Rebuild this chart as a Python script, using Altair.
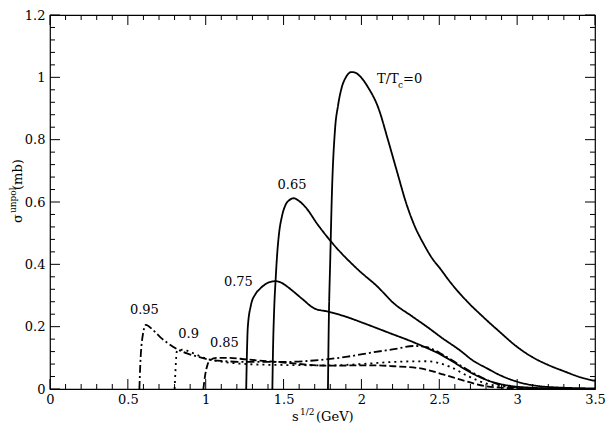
import altair as alt
import pandas as pd

# ---- data ----
t0_x = [1.785, 1.79, 1.80, 1.81, 1.83, 1.85, 1.875, 1.90, 1.935, 1.96, 1.99, 2.04, 2.11, 2.17, 2.23, 2.285, 2.34, 2.40, 2.46, 2.50, 2.567, 2.673, 2.78, 2.884, 2.99, 3.095, 3.20, 3.306, 3.41, 3.5]
t0_y = [0.0, 0.2, 0.42, 0.62, 0.83, 0.91, 0.97, 1.0, 1.017, 1.015, 1.004, 0.97, 0.90, 0.80, 0.695, 0.60, 0.525, 0.465, 0.415, 0.39, 0.345, 0.284, 0.232, 0.185, 0.139, 0.103, 0.077, 0.056, 0.037, 0.026]

t65_x = [1.428, 1.432, 1.44, 1.449, 1.46, 1.47, 1.49, 1.512, 1.54, 1.565, 1.60, 1.64, 1.72, 1.81, 1.98, 2.10, 2.21, 2.32, 2.42, 2.52, 2.63, 2.72, 2.80, 2.90, 2.99, 3.10, 3.30, 3.5]
t65_y = [0.0, 0.12, 0.26, 0.351, 0.44, 0.495, 0.555, 0.59, 0.607, 0.612, 0.603, 0.584, 0.527, 0.47, 0.382, 0.33, 0.274, 0.235, 0.20, 0.163, 0.125, 0.09, 0.068, 0.042, 0.025, 0.012, 0.004, 0.002]

t75_x = [1.26, 1.265, 1.27, 1.29, 1.32, 1.345, 1.38, 1.41, 1.45, 1.49, 1.52, 1.57, 1.62, 1.70, 1.79, 1.90, 2.00, 2.10, 2.21, 2.30, 2.40, 2.50, 2.57, 2.69, 2.82, 2.97, 3.10, 3.30, 3.5]
t75_y = [0.0, 0.12, 0.196, 0.268, 0.305, 0.32, 0.335, 0.343, 0.346, 0.34, 0.33, 0.31, 0.289, 0.258, 0.248, 0.232, 0.214, 0.195, 0.174, 0.157, 0.136, 0.113, 0.093, 0.056, 0.026, 0.009, 0.004, 0.001, 0.0]

t85_x = [0.985, 0.995, 1.01, 1.027, 1.07, 1.15, 1.26, 1.50, 1.77, 2.08, 2.21, 2.38, 2.53, 2.67, 2.80, 3.0, 3.2, 3.5]
t85_y = [0.0, 0.04, 0.075, 0.092, 0.10, 0.10, 0.095, 0.085, 0.075, 0.076, 0.073, 0.066, 0.046, 0.025, 0.009, 0.002, 0.0005, 0.0]

t90_x = [0.80, 0.805, 0.81, 0.816, 0.85, 0.88, 0.94, 1.006, 1.10, 1.26, 1.50, 1.80, 2.00, 2.21, 2.42, 2.57, 2.69, 2.82, 3.0, 3.2, 3.5]
t90_y = [0.0, 0.05, 0.10, 0.123, 0.126, 0.123, 0.11, 0.097, 0.088, 0.08, 0.077, 0.076, 0.08, 0.087, 0.089, 0.071, 0.04, 0.015, 0.005, 0.001, 0.0]

t95_x = [0.574, 0.58, 0.595, 0.616, 0.66, 0.711, 0.76, 0.816, 0.88, 0.943, 1.027, 1.10, 1.26, 1.50, 1.77, 1.90, 2.08, 2.21, 2.34, 2.42, 2.53, 2.65, 2.78, 2.90, 3.0, 3.2, 3.5]
t95_y = [0.0, 0.08, 0.17, 0.206, 0.19, 0.165, 0.146, 0.128, 0.114, 0.105, 0.094, 0.09, 0.087, 0.087, 0.095, 0.103, 0.118, 0.128, 0.138, 0.134, 0.108, 0.071, 0.035, 0.012, 0.005, 0.001, 0.0]

series_names = ["0", "0.65", "0.75", "0.85", "0.9", "0.95"]
series_dash = [[1, 0], [1, 0], [1, 0], [7, 3], [2, 4], [8, 3, 2, 3]]

label_text = ["0.65", "0.75", "0.85", "0.9", "0.95"]
label_x = [1.554, 1.21, 1.12, 0.89, 0.606]
label_y = [0.656, 0.343, 0.149, 0.177, 0.255]

x_major = [0, 0.5, 1, 1.5, 2, 2.5, 3, 3.5]
y_major = [0, 0.2, 0.4, 0.6, 0.8, 1.0, 1.2]
x_minor = [round(i * 0.1, 2) for i in range(36) if i % 5]
y_minor = [round(i * 0.04, 2) for i in range(31) if i % 5]

# ---- build ----
rows = []
for name, xs, ys in zip(series_names,
                        [t0_x, t65_x, t75_x, t85_x, t90_x, t95_x],
                        [t0_y, t65_y, t75_y, t85_y, t90_y, t95_y]):
    for i, (a, b) in enumerate(zip(xs, ys)):
        rows.append({"s": name, "x": a, "y": b, "i": i})
df = pd.DataFrame(rows)

W, H = 545, 374
FONT = "DejaVu Serif"
FS = 13
xsc = alt.Scale(domain=[0, 3.5], nice=False, zero=False)
ysc = alt.Scale(domain=[0, 1.2], nice=False, zero=False)
xaxis = alt.Axis(values=x_major, format="~g", ticks=False, domain=False, grid=False,
                 labelFont=FONT, labelFontSize=FS, labelColor="black", labelPadding=4,
                 labelFlush=False, labelOverlap=False, title=None)
yaxis = alt.Axis(values=y_major, format="~g", ticks=False, domain=False, grid=False,
                 labelFont=FONT, labelFontSize=FS, labelColor="black", labelPadding=5,
                 labelFlush=False, labelOverlap=False, title=None)

lines = alt.Chart(df).mark_line(color="black", strokeWidth=1.8, interpolate="monotone", clip=True).encode(
    x=alt.X("x:Q", scale=xsc, axis=xaxis),
    y=alt.Y("y:Q", scale=ysc, axis=yaxis),
    strokeDash=alt.StrokeDash("s:N", scale=alt.Scale(domain=series_names, range=series_dash), legend=None),
    detail="s:N",
    order="i:Q",
)

labels = alt.Chart(pd.DataFrame({"t": label_text, "x": label_x, "y": label_y})).mark_text(
    font=FONT, fontSize=FS, color="black", align="center", baseline="middle").encode(
    x=alt.X("x:Q", scale=xsc, axis=xaxis), y=alt.Y("y:Q", scale=ysc, axis=yaxis), text="t:N")

tlab = pd.DataFrame({"x": [2.10], "y": [0.995]})
t_a = alt.Chart(tlab).mark_text(font=FONT, fontSize=FS, color="black", align="left", baseline="middle", text="T/T").encode(
    x=alt.X("x:Q", scale=xsc, axis=xaxis), y=alt.Y("y:Q", scale=ysc, axis=yaxis))
t_b = alt.Chart(tlab).mark_text(font=FONT, fontSize=9, color="black", align="left", baseline="middle", text="c", dx=21, dy=6).encode(
    x=alt.X("x:Q", scale=xsc, axis=xaxis), y=alt.Y("y:Q", scale=ysc, axis=yaxis))
t_c = alt.Chart(tlab).mark_text(font=FONT, fontSize=FS, color="black", align="left", baseline="middle", text="=0", dx=26).encode(
    x=alt.X("x:Q", scale=xsc, axis=xaxis), y=alt.Y("y:Q", scale=ysc, axis=yaxis))

def xticks(vals, L, bottom):
    return alt.Chart(pd.DataFrame({"v": vals})).mark_rule(color="black", strokeWidth=1).encode(
        x=alt.X("v:Q", scale=xsc, axis=xaxis),
        y=alt.value(H if bottom else 0), y2=alt.value(H - L if bottom else L))

def yticks(vals, L, left):
    return alt.Chart(pd.DataFrame({"v": vals})).mark_rule(color="black", strokeWidth=1).encode(
        y=alt.Y("v:Q", scale=ysc, axis=yaxis),
        x=alt.value(0 if left else W), x2=alt.value(L if left else W - L))

ticks = [xticks(x_major, 10, True), xticks(x_major, 10, False),
         xticks(x_minor, 5, True), xticks(x_minor, 5, False),
         yticks(y_major, 10, True), yticks(y_major, 10, False),
         yticks(y_minor, 5, True), yticks(y_minor, 5, False)]

dummy = pd.DataFrame({"d": [0]})
def ptext(txt, x, y, size=FS, angle=0, align="left", baseline="alphabetic"):
    return alt.Chart(dummy).mark_text(font=FONT, fontSize=size, color="black", text=txt, angle=angle,
                                      align=align, baseline=baseline).encode(x=alt.value(x), y=alt.value(y))

titles = [
    ptext("s", 242, 406),
    ptext("1/2", 250, 400, size=9),
    ptext("(GeV)", 266, 406),
    ptext("σ", -28.5, 208, angle=270),
    ptext("unpol", -34.5, 198, size=9, angle=270),
    ptext("(mb)", -28.5, 175, angle=270),
]

chart = alt.layer(lines, labels, t_a, t_b, t_c, *ticks, *titles).properties(
    width=W, height=H,
    padding={"left": 42, "top": 7, "right": 11, "bottom": 35},
    autosize=alt.AutoSizeParams(type="none"),
    background="white",
).configure_view(stroke="black", strokeWidth=1.2)

chart.save("out.html", embed_options={"renderer": "svg", "actions": False})
